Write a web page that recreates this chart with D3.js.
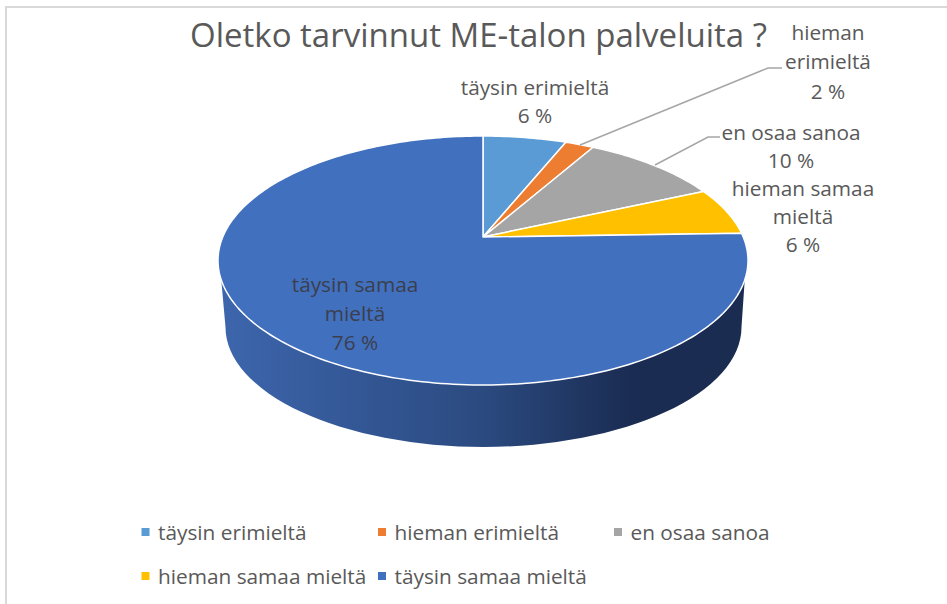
<!DOCTYPE html>
<html>
<head>
<meta charset="utf-8">
<script src="https://cdnjs.cloudflare.com/ajax/libs/d3/7.8.5/d3.min.js"></script>
<style>
  html, body { margin: 0; padding: 0; background: #fff; }
  svg { display: block; }
  text { font-family: "Open Sans", sans-serif; fill: #595959; }
</style>
</head>
<body>
<svg id="chart" width="947" height="604"></svg>
<script>
// slice sizes, they round to the printed labels
const categories = ["täysin erimieltä", "hieman erimieltä", "en osaa sanoa", "hieman samaa mieltä", "täysin samaa mieltä"]
const values = [6.1, 2.1, 10.1, 6.2, 75.5]
const colors = ["#5b9bd5", "#ed7d31", "#a5a5a5", "#ffc000", "#4170bf"]

var width = 947
var height = 604
var svg = d3.select("#chart")

// frame of the screenshot
svg.append("path")
  .attr("d", "M6,604V7H947")
  .attr("fill", "none")
  .attr("stroke", "#d9d9d9")
  .attr("stroke-width", 2)

// top face ellipse, tilted so the pie centre sits above the ellipse centre
var face = { cx: 483, cy: 260.5, rx: 265, ry: 124.5 }
var foot = { cx: 483.5, cy: 327, rx: 258, ry: 120 }
var apexY = 237
var tilt = (face.cy - apexY) / face.ry

// true pie angle -> point on the rim as seen in perspective
function rim(angle) {
  var x = Math.sin(angle)
  var y = Math.cos(angle)
  var d = 1 + tilt * y
  return [
    face.cx + face.rx * x * Math.sqrt(1 - tilt * tilt) / d,
    face.cy - face.ry * (y + tilt) / d
  ]
}

var defs = svg.append("defs")
var grad = defs.append("linearGradient")
  .attr("id", "side")
  .attr("gradientUnits", "userSpaceOnUse")
  .attr("x1", 218).attr("x2", 748)
  .attr("y1", 0).attr("y2", 0)
grad.append("stop").attr("offset", "0").attr("stop-color", "#3d66ad")
grad.append("stop").attr("offset", "0.5").attr("stop-color", "#2b4a80")
grad.append("stop").attr("offset", "0.78").attr("stop-color", "#1a2c52")
grad.append("stop").attr("offset", "1").attr("stop-color", "#1a2c50")

// side wall
var wallStartY = 280
var dy = (wallStartY - face.cy) / face.ry
var startX = face.rx * Math.sqrt(1 - dy * dy)
svg.append("path")
  .attr("d", "M" + (face.cx - startX) + "," + wallStartY +
    "L" + (foot.cx - foot.rx) + "," + foot.cy +
    "A" + foot.rx + "," + foot.ry + " 0 0 0 " + (foot.cx + foot.rx) + "," + foot.cy +
    "L" + (face.cx + startX) + "," + wallStartY + "Z")
  .attr("fill", "url(#side)")

// slices
var pie = d3.pie().sort(null).value(function(d) { return d })
var arcs = pie(values)
var line = d3.line()

function slicePath(d) {
  var steps = Math.ceil((d.endAngle - d.startAngle) / 0.02)
  var pts = d3.range(steps + 1).map(function(i) {
    return rim(d.startAngle + (d.endAngle - d.startAngle) * i / steps)
  })
  return line([[face.cx, apexY]].concat(pts)) + "Z"
}

svg.append("g").selectAll("path")
  .data(arcs)
  .enter()
  .append("path")
  .attr("d", slicePath)
  .attr("fill", function(d, i) { return colors[i] })
  .attr("stroke", "#fff")
  .attr("stroke-width", 1.5)
  .attr("stroke-linejoin", "round")

// leader lines
var leaders = [
  [[580, 145], [768, 68], [782, 68]],
  [[655, 165], [708, 137], [720, 137]]
]
svg.append("g").selectAll("path")
  .data(leaders)
  .enter()
  .append("path")
  .attr("d", line)
  .attr("fill", "none")
  .attr("stroke", "#a6a6a6")
  .attr("stroke-width", 1.5)

// title
svg.append("text")
  .attr("x", 478.5)
  .attr("y", 47)
  .attr("text-anchor", "middle")
  .style("font-size", "33px")
  .text("Oletko tarvinnut ME-talon palveluita ?")

// data labels, one text per line
var labelLines = [
  { x: 535, y: 95, t: "täysin erimieltä" },
  { x: 535, y: 123, t: "6 %" },
  { x: 828, y: 40, t: "hieman" },
  { x: 828, y: 69, t: "erimieltä" },
  { x: 828, y: 99, t: "2 %" },
  { x: 791, y: 139.5, t: "en osaa sanoa" },
  { x: 791, y: 167.5, t: "10 %" },
  { x: 803, y: 196, t: "hieman samaa" },
  { x: 803, y: 224, t: "mieltä" },
  { x: 803, y: 252, t: "6 %" },
  { x: 355, y: 292, t: "täysin samaa", c: "#3b3f4d" },
  { x: 355, y: 321, t: "mieltä", c: "#3b3f4d" },
  { x: 355, y: 350, t: "76 %", c: "#3b3f4d" }
]
svg.append("g").selectAll("text")
  .data(labelLines)
  .enter()
  .append("text")
  .attr("x", function(d) { return d.x })
  .attr("y", function(d) { return d.y })
  .attr("text-anchor", "middle")
  .style("font-size", "20.8px")
  .style("fill", function(d) { return d.c || "#595959" })
  .text(function(d) { return d.t })

// legend
var legendPos = [[141.5, 532], [378, 532], [614, 532], [141.5, 576], [378, 576]]
var legend = svg.append("g").selectAll("g")
  .data(categories)
  .enter()
  .append("g")
  .attr("transform", function(d, i) { return "translate(" + legendPos[i][0] + "," + legendPos[i][1] + ")" })

legend.append("rect")
  .attr("x", 0)
  .attr("y", -4)
  .attr("width", 8)
  .attr("height", 8)
  .attr("fill", function(d, i) { return colors[i] })

legend.append("text")
  .attr("x", 16.5)
  .attr("y", 7.5)
  .style("font-size", "20.8px")
  .text(function(d) { return d })
</script>
</body>
</html>
